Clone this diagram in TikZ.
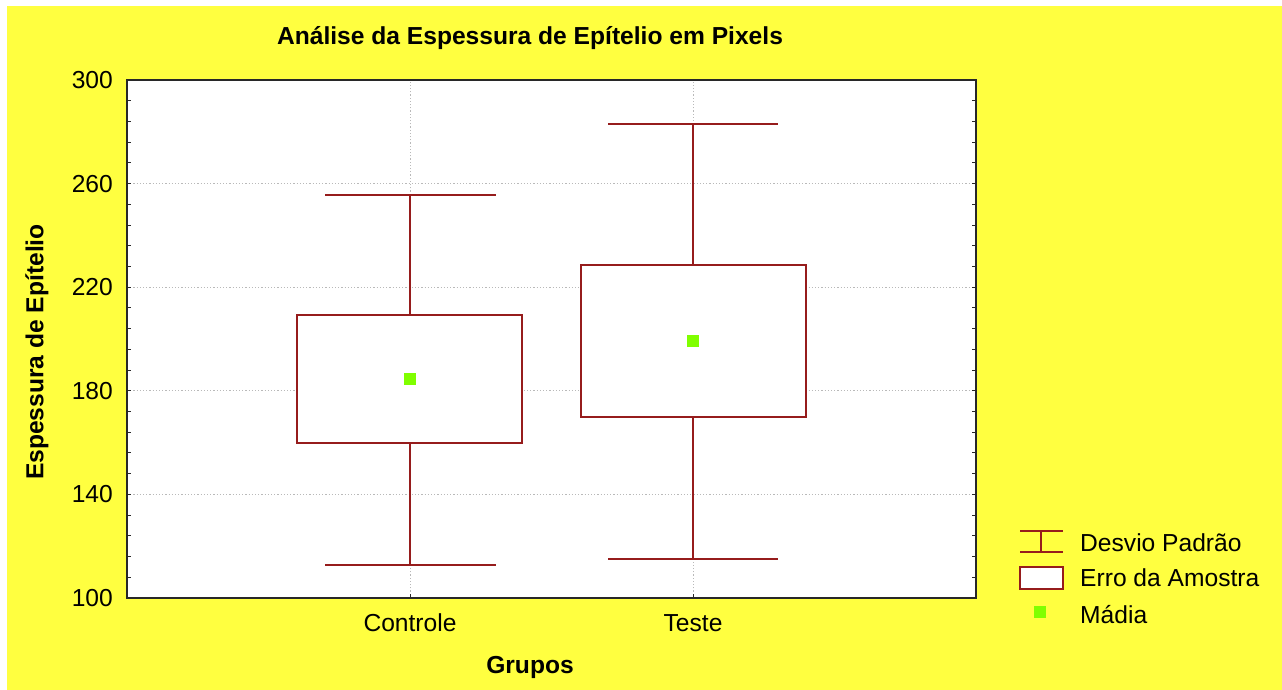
\documentclass[tikz,border=0pt]{standalone}
\usepackage{fontspec}
\setmainfont{Liberation Sans}
\definecolor{bgyellow}{RGB}{255,255,64}
\definecolor{boxred}{RGB}{150,28,28}
\definecolor{meangreen}{RGB}{128,255,0}
\definecolor{framegray}{RGB}{40,40,40}
\begin{document}
\begin{tikzpicture}[x=1pt,y=1pt,
  lbl/.style={font=\fontsize{24.6}{27}\selectfont, inner sep=0pt},
  boldlbl/.style={font=\fontsize{24.6}{27}\selectfont\bfseries, inner sep=0pt},
  redline/.style={draw=boxred, line width=1.5pt},
  gridline/.style={draw=gray!55, line width=0.8pt, dash pattern=on 1.2pt off 2pt},
  meanpt/.style={fill=meangreen},
  tickline/.style={draw=framegray, line width=1pt}]
\useasboundingbox (0,0) rectangle (1282,690);
\fill[white] (0,0) rectangle (1282,690);
\fill[bgyellow] (7,0) rectangle (1282,684);
% title and axis labels
\node[boldlbl] (title) at (530,652) {Análise da Espessura de Epítelio em Pixels};
\node[boldlbl] (xlabel) at (530,23) {Grupos};
\node[boldlbl, rotate=90] (ylabel) at (37,338) {Espessura de Epítelio};
\node[lbl] (cat1) at (410,67) {Controle};
\node[lbl] (cat2) at (693,67) {Teste};
% data scope
\begin{scope}[shift={(0pt,-167pt)}, y=2.59pt]
  \fill[white] (127,100) rectangle (976,300);
  \foreach \v in {140,180,220,260} \draw[gridline] (127,\v) -- (976,\v);
  \foreach \xx in {410,693} \draw[gridline] (\xx,100) -- (\xx,300);
  \foreach \v in {108,116,...,292} {
    \draw[tickline] (127,\v) -- ++(4pt,0);
    \draw[tickline] (976,\v) -- ++(-4pt,0);
  }
  \foreach \xx in {410,693} \draw[tickline] (\xx,100) -- ++(0,4pt);
  \foreach \v in {100,140,180,220,260,300}
    \node[lbl, anchor=east] (tick\v) at (113,\v) {\v};
  % Controle
  \draw[redline] (410,112.7) -- (410,255.6);
  \draw[redline] (325,255.6) -- (496,255.6);
  \draw[redline] (325,112.7) -- (496,112.7);
  \draw[redline, fill=white] (297,159.8) rectangle (522,209.3);
  \fill[meanpt] (404,184.6) ++(0,-2.3) rectangle ++(12,4.6);
  % Teste
  \draw[redline] (693,115.1) -- (693,283.0);
  \draw[redline] (608,283.0) -- (778,283.0);
  \draw[redline] (608,115.1) -- (778,115.1);
  \draw[redline, fill=white] (581,169.9) rectangle (806,228.6);
  \fill[meanpt] (687,199.2) ++(0,-2.3) rectangle ++(12,4.6);
  % frame
  \draw[draw=framegray, line width=1.6pt] (127,100) rectangle (976,300);
\end{scope}
% legend
\draw[redline] (1020,159) -- (1063,159);
\draw[redline] (1020,138) -- (1063,138);
\draw[redline] (1041,138) -- (1041,159);
\draw[redline, fill=white] (1020,101) rectangle (1063,123);
\fill[meanpt] (1034,72) rectangle (1046,84);
\node[lbl, anchor=west] (leg1) at (1080,147) {Desvio Padrão};
\node[lbl, anchor=west] (leg2) at (1080,112) {Erro da Amostra};
\node[lbl, anchor=west] (leg3) at (1080,75) {Mádia};
\end{tikzpicture}
\end{document}
